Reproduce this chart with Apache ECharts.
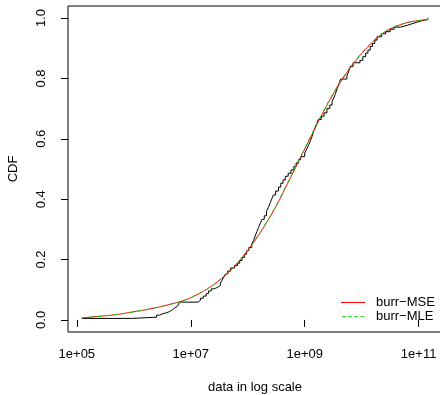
<!DOCTYPE html>
<html>
<head>
<meta charset="utf-8">
<script src="https://cdn.jsdelivr.net/npm/echarts@6/dist/echarts.min.js"></script>
<style>html,body{margin:0;padding:0;background:#fff}#c{width:440px;height:395px}</style>
</head>
<body>
<div id="c"></div>
<script>
// log10(data) positions of the empirical CDF jumps and the CDF value after each jump
const ecdfLog = [5.088,5.965,6.40,6.45,6.50,6.58,6.63,6.68,6.72,6.77,6.80,7.13,7.17,7.22,7.27,7.31,7.36,7.41,7.47,7.52,7.55,7.58,7.61,7.65,7.70,7.77,7.82,7.86,7.90,7.94,7.98,8.02,8.07,8.10,8.13,8.16,8.19,8.22,8.25,8.29,8.33,8.36,8.39,8.42,8.45,8.49,8.54,8.58,8.62,8.66,8.71,8.76,8.81,8.85,8.89,8.93,9.00,9.035,9.07,9.10,9.13,9.15,9.18,9.21,9.24,9.29,9.34,9.39,9.44,9.48,9.51,9.54,9.57,9.60,9.63,9.74,9.77,9.80,9.85,9.97,10.02,10.07,10.11,10.15,10.19,10.23,10.27,10.35,10.42,10.50,10.57,10.68,10.80,10.88,10.98,11.07,11.14,11.17];
const ecdfVal = [0.005,0.009,0.016,0.020,0.024,0.028,0.034,0.040,0.046,0.052,0.059,0.065,0.072,0.079,0.087,0.096,0.103,0.108,0.114,0.122,0.132,0.142,0.152,0.162,0.172,0.180,0.188,0.197,0.207,0.218,0.230,0.240,0.252,0.262,0.278,0.292,0.306,0.320,0.333,0.345,0.360,0.372,0.386,0.400,0.414,0.427,0.440,0.453,0.464,0.476,0.486,0.497,0.509,0.520,0.531,0.541,0.553,0.566,0.580,0.594,0.608,0.622,0.636,0.650,0.664,0.675,0.686,0.700,0.712,0.724,0.735,0.750,0.766,0.782,0.798,0.808,0.822,0.840,0.852,0.860,0.872,0.884,0.894,0.906,0.916,0.927,0.938,0.948,0.955,0.963,0.970,0.976,0.981,0.987,0.992,0.995,0.997,1.0];

// fitted curves (log10 of data, CDF)
const fitLog = [5.088,5.4,5.7,6.0,6.3,6.6,6.9,7.1,7.3,7.5,7.7,7.9,8.1,8.3,8.5,8.7,8.9,9.1,9.3,9.5,9.7,9.9,10.1,10.3,10.5,10.7,10.9,11.17];
const mseVal = [0.007,0.012,0.018,0.027,0.037,0.050,0.066,0.083,0.104,0.131,0.165,0.207,0.256,0.313,0.378,0.452,0.528,0.604,0.679,0.748,0.808,0.860,0.903,0.939,0.964,0.979,0.989,0.995];
const mleVal = [0.007,0.012,0.018,0.027,0.037,0.050,0.066,0.083,0.104,0.131,0.165,0.207,0.257,0.315,0.380,0.455,0.531,0.607,0.682,0.751,0.811,0.862,0.905,0.940,0.965,0.980,0.989,0.995];

const xTicks = [5,7,9,11];
const yTicks = [0,0.2,0.4,0.6,0.8,1.0];
const seriesNames = ['burr\u2212MSE','burr\u2212MLE'];
const seriesColors = ['#FF0000','#00DD00'];

const FONT = 'Liberation Sans, Arial, Helvetica, sans-serif';
const zip = (a,b) => a.map((v,i)=>[v,b[i]]);

const chart = echarts.init(document.getElementById('c'), null, {renderer:'canvas'});
chart.setOption({
  animation:false,
  backgroundColor:'#fff',
  grid:{left:68, top:6, width:374, height:326, show:true, borderColor:'#000', borderWidth:1,
        containLabel:false, outerBoundsMode:'none'},
  xAxis:{
    type:'value', min:4.845, max:11.41,
    name:'data in log scale', nameLocation:'middle', nameGap:49,
    nameTextStyle:{fontFamily:FONT, fontSize:13, color:'#000'},
    axisLine:{show:false},
    splitLine:{show:false},
    axisTick:{show:true, inside:false, length:7, customValues:xTicks, lineStyle:{color:'#000', width:1}},
    axisLabel:{customValues:xTicks, margin:16, fontFamily:FONT, fontSize:13, color:'#000',
      formatter:v=>'1e+' + String(Math.round(v)).padStart(2,'0')}
  },
  yAxis:{
    type:'value', min:-0.04, max:1.04,
    name:'CDF', nameLocation:'middle', nameGap:48, nameRotate:90,
    nameTextStyle:{fontFamily:FONT, fontSize:13, color:'#000'},
    axisLine:{show:false},
    splitLine:{show:false},
    axisTick:{show:true, inside:false, length:7, customValues:yTicks, lineStyle:{color:'#000', width:1}},
    axisLabel:{customValues:yTicks, rotate:90, margin:20, align:'center', verticalAlign:'bottom',
      fontFamily:FONT, fontSize:13, color:'#000', formatter:v=>v.toFixed(1)}
  },
  legend:{
    data:[
      {name:seriesNames[0], icon:'rect', itemStyle:{color:seriesColors[0], opacity:1, borderWidth:0}},
      {name:seriesNames[1], icon:'path://M0,0h3v1h-3z M6,0h3v1h-3z M12,0h3v1h-3z M18,0h3v1h-3z',
       itemStyle:{color:seriesColors[1], opacity:1, borderWidth:0}}
    ],
    orient:'vertical', left:341, top:296, padding:0,
    itemWidth:24, itemHeight:1, itemGap:1,
    textStyle:{fontFamily:FONT, fontSize:13, color:'#000', padding:[0,0,0,6]}
  },
  series:[
    {type:'line', name:'ecdf', data:zip(ecdfLog, ecdfVal), step:'end', showSymbol:false, symbol:'none',
     lineStyle:{color:'#000', width:1}, silent:true},
    {type:'line', name:seriesNames[0], data:zip(fitLog, mseVal), smooth:true, showSymbol:false, symbol:'none',
     itemStyle:{color:seriesColors[0]}, lineStyle:{color:seriesColors[0], width:1}},
    {type:'line', name:seriesNames[1], data:zip(fitLog, mleVal), smooth:true, showSymbol:false, symbol:'none',
     itemStyle:{color:seriesColors[1]}, lineStyle:{color:seriesColors[1], width:1, type:[4,4]}}
  ]
});
</script>
</body>
</html>
